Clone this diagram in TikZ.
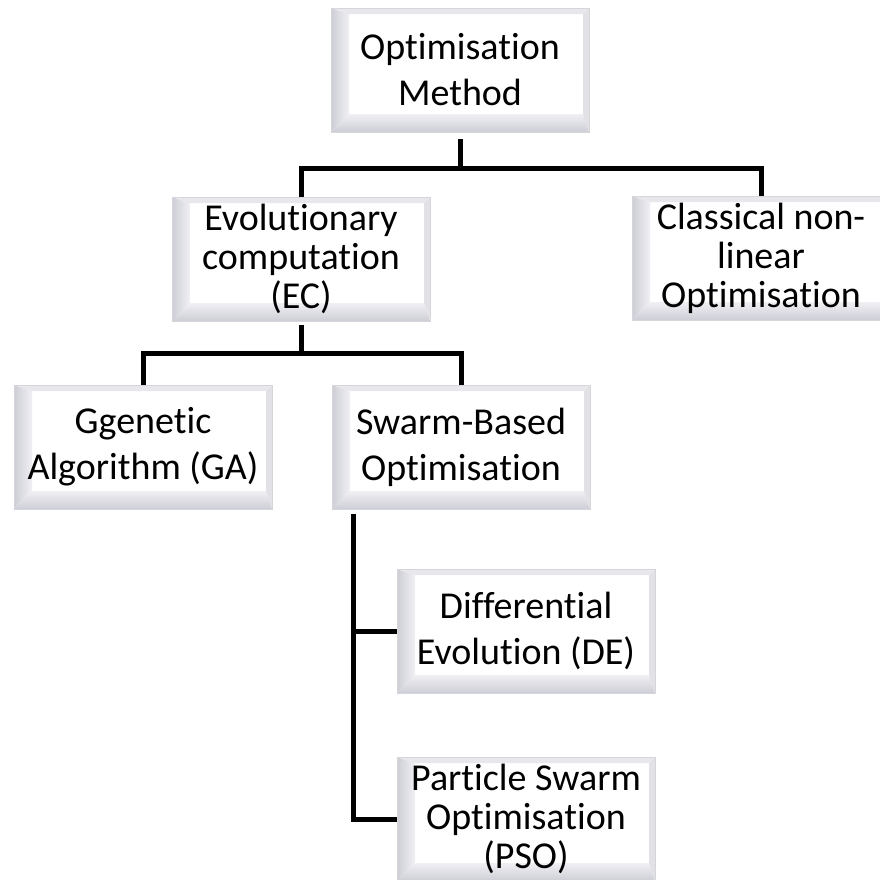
\documentclass[tikz,border=0pt]{standalone}
\usepackage{fontspec}
\setmainfont{Carlito}[Ligatures={NoCommon}]
\usetikzlibrary{calc}
\definecolor{edgegray}{HTML}{D6D6DA}
\definecolor{bevdark}{HTML}{CDCDD6}
\definecolor{bevlight}{HTML}{F0F0F4}
\definecolor{bevtop}{HTML}{E8E8EC}
\definecolor{bevright}{HTML}{E2E2E6}
\tikzset{
  bev/.style={draw=edgegray, line width=0.8pt, fill=white,
    minimum width=258pt, minimum height=124pt, inner sep=0pt, align=center,
    font=\fontsize{38}{46}\selectfont,
    path picture={
      \path (path picture bounding box.south west) coordinate (bsw)
            (path picture bounding box.north west) coordinate (bnw)
            (path picture bounding box.north east) coordinate (bne)
            (path picture bounding box.south east) coordinate (bse);
      \shade[left color=bevdark, right color=bevlight]
        (bsw) -- (bnw) -- ([shift={(18pt,-6pt)}]bnw) -- ([shift={(18pt,18pt)}]bsw) -- cycle;
      \shade[top color=bevlight, bottom color=bevdark]
        (bsw) -- ([shift={(18pt,18pt)}]bsw) -- ([shift={(-6pt,18pt)}]bse) -- (bse) -- cycle;
      \fill[bevtop] (bnw) -- (bne) -- ([shift={(-6pt,-6pt)}]bne) -- ([shift={(18pt,-6pt)}]bnw) -- cycle;
      \fill[bevright] (bne) -- (bse) -- ([shift={(-6pt,18pt)}]bse) -- ([shift={(-6pt,-6pt)}]bne) -- cycle;
    }},
  bevthree/.style={bev, font=\fontsize{38}{39}\selectfont},
  conn/.style={line width=5pt, black}
}
\begin{document}
\begin{tikzpicture}[x=1pt,y=-1pt]
\useasboundingbox (0,0) rectangle (880,879);
\clip (0,0) rectangle (880,879);
% nodes
\node[bev] (top) at (460,70) {Optimisation\\Method};
\node[bevthree] (ec) at (301,259) {Evolutionary\\computation\\(EC)};
\node[bevthree] (cl) at (761,258) {Classical non-\\linear\\Optimisation};
\node[bev] (ga) at (143,447) {Ggenetic\\Algorithm (GA)};
\node[bev] (sw) at (461,447) {Swarm-Based\\Optimisation};
\node[bev] (de) at (526,631) {Differential\\Evolution (DE)};
\node[bevthree] (pso) at (526,819) {Particle Swarm\\Optimisation\\(PSO)};
% connectors
\coordinate (j1) at (460,168);
\coordinate (j2) at (301,353);
\coordinate (sb) at (353,514);
\draw[conn, shorten <=7pt] (top.south) -- (j1);
\draw[conn] (ec.north) |- (j1);
\draw[conn] (cl.north) |- (j1);
\draw[conn, shorten <=4pt] (ec.south) -- (j2);
\draw[conn] (ga.north) |- (j2);
\draw[conn] (sw.north) |- (j2);
\draw[conn] (sb) |- (de.west);
\draw[conn] (sb) |- (pso.west);
\end{tikzpicture}
\end{document}
